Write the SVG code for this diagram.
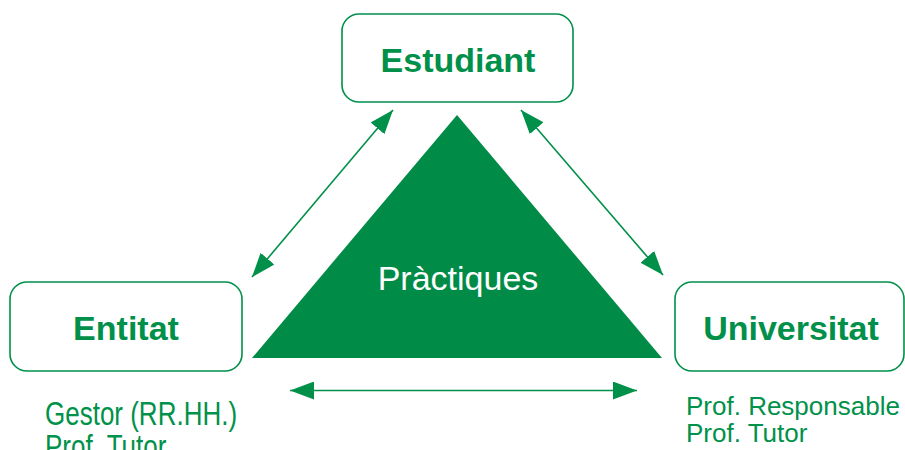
<svg xmlns="http://www.w3.org/2000/svg" width="905" height="450" viewBox="0 0 905 450">
<defs>
<style>
.box{fill:#ffffff;stroke:#00904a;stroke-width:1.6}
.title{font-family:"Liberation Sans",Arial,sans-serif;font-weight:bold;font-size:34px;fill:#00904a;text-anchor:middle}
.sub{font-family:"Liberation Sans",Arial,sans-serif;font-size:26px;fill:#00914a}
.conn{stroke:#00904a;stroke-width:1.6;fill:none}
</style>
<marker id="ah" viewBox="0 0 24 18" refX="24" refY="9" markerWidth="24" markerHeight="18" markerUnits="userSpaceOnUse" orient="auto-start-reverse">
<path d="M0,0 L24,9 L0,18 Z" fill="#00904a"/>
</marker>
</defs>
<rect width="905" height="450" fill="#ffffff"/>
<g id="practiques">
<polygon points="457,115 252,358 662,358" fill="#008c47"/>
<text x="458" y="290" font-family="Liberation Sans,Arial,sans-serif" font-size="34" fill="#ffffff" text-anchor="middle">Pràctiques</text>
</g>
<g id="estudiant">
<rect class="box" x="342" y="14" width="231" height="88" rx="17"/>
<text class="title" x="458" y="72">Estudiant</text>
</g>
<g id="entitat">
<rect class="box" x="10" y="282" width="232" height="89" rx="17"/>
<text class="title" x="126" y="340">Entitat</text>
<g transform="translate(45,425) scale(1,1.26)">
<text class="sub" x="0" y="0">Gestor (RR.HH.)</text>
<text class="sub" x="0" y="26">Prof. Tutor</text>
</g>
</g>
<g id="universitat">
<rect class="box" x="675" y="282" width="229" height="89" rx="17"/>
<text class="title" x="791" y="340">Universitat</text>
<text class="sub" x="686" y="415">Prof. Responsable</text>
<text class="sub" x="686" y="442">Prof. Tutor</text>
</g>
<g id="connectors">
<line class="conn" x1="252" y1="277" x2="393" y2="110" marker-start="url(#ah)" marker-end="url(#ah)"/>
<line class="conn" x1="521" y1="110" x2="663" y2="275" marker-start="url(#ah)" marker-end="url(#ah)"/>
<line class="conn" x1="290" y1="390.5" x2="637" y2="390.5" marker-start="url(#ah)" marker-end="url(#ah)"/>
</g>
</svg>
